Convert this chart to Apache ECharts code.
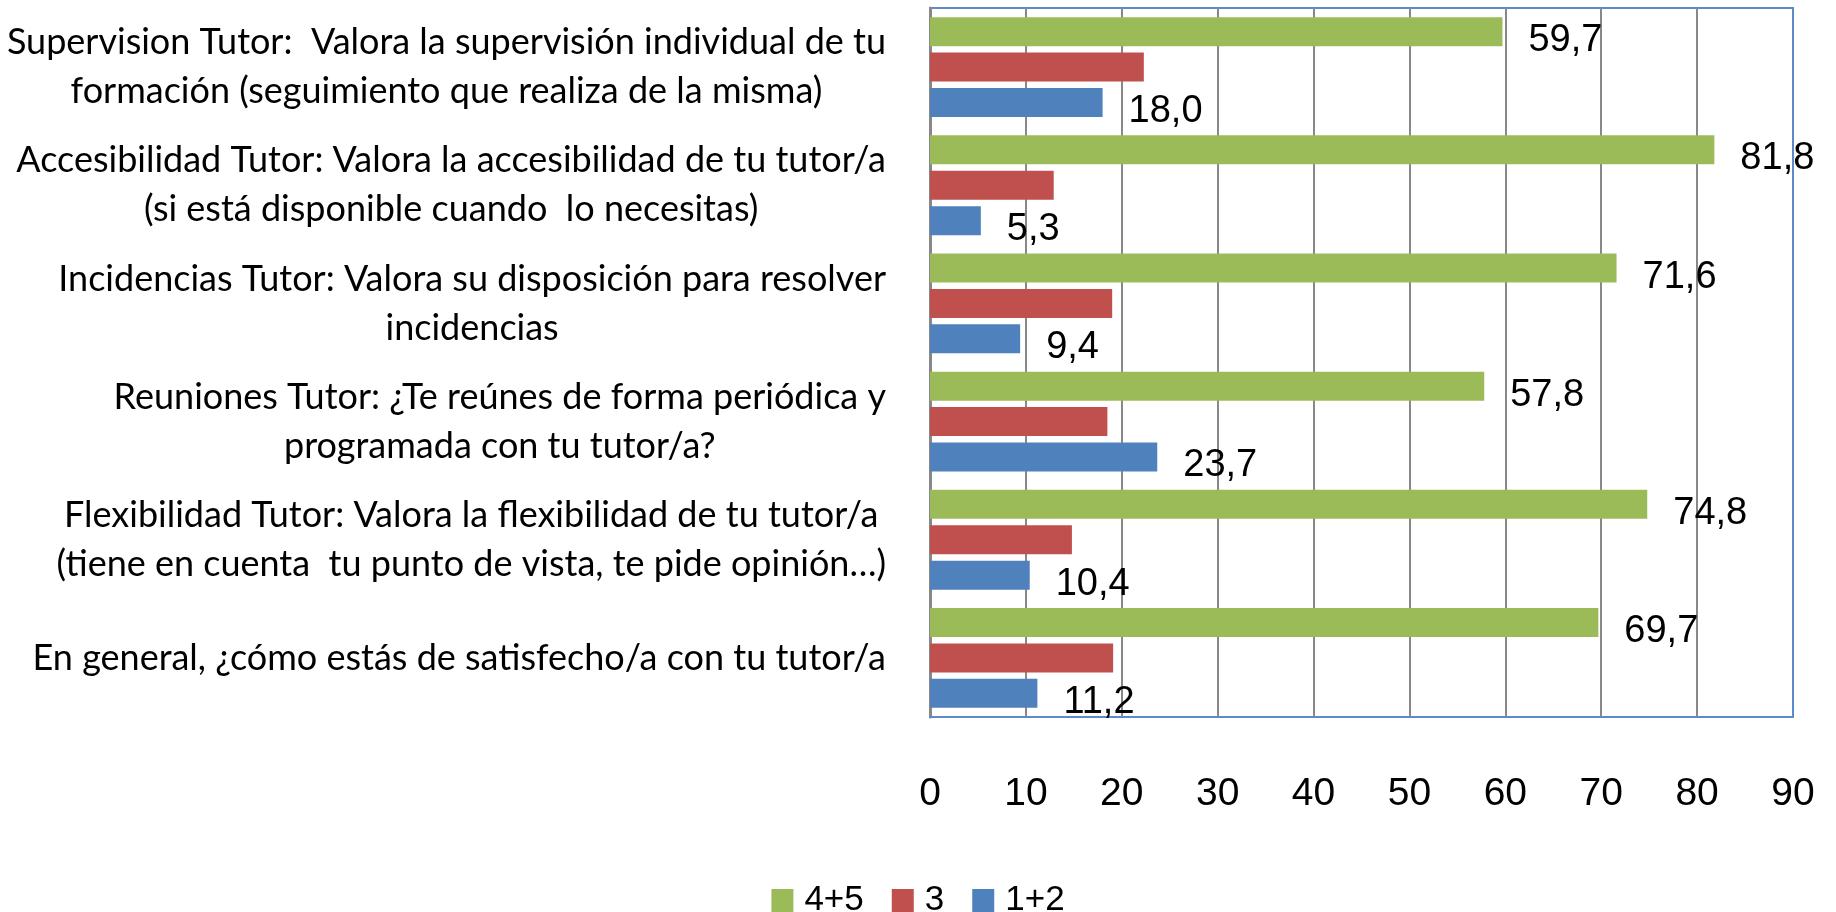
<!DOCTYPE html>
<html>
<head>
<meta charset="utf-8">
<script src="https://cdn.jsdelivr.net/npm/echarts@6/dist/echarts.min.js"></script>
<style>
  html, body { margin: 0; padding: 0; background: #fff; }
  #chart { width: 1836px; height: 912px; }
</style>
</head>
<body>
<div id="chart"></div>
<script>
const categories = [
  'Supervision Tutor:  Valora la supervisión individual de tu\nformación (seguimiento que realiza de la misma)',
  'Accesibilidad Tutor: Valora la accesibilidad de tu tutor/a\n(si está disponible cuando  lo necesitas)',
  'Incidencias Tutor: Valora su disposición para resolver\nincidencias',
  'Reuniones Tutor: ¿Te reúnes de forma periódica y\nprogramada con tu tutor/a?',
  'Flexibilidad Tutor: Valora la flexibilidad de tu tutor/a\n(tiene en cuenta  tu punto de vista, te pide opinión…)',
  'En general, ¿cómo estás de satisfecho/a con tu tutor/a'
]
const seriesNames = ['4+5', '3', '1+2']
const high = [59.7, 81.8, 71.6, 57.8, 74.8, 69.7]
const mid = [22.3, 12.9, 19.0, 18.5, 14.8, 19.1]
const low = [18.0, 5.3, 9.4, 23.7, 10.4, 11.2]
const colors = ['#9BBB59', '#C0504D', '#4F81BD']

const chart = echarts.init(document.getElementById('chart'), undefined, { renderer: 'canvas' })

// valores con coma decimal
const fmt = (p) => p.value.toFixed(1).replace('.', ',')

const valueLabel = {
  show: true,
  position: 'right',
  distance: 26,
  offset: [0, 9],
  color: '#000',
  fontFamily: 'Liberation Sans',
  fontSize: 38,
  formatter: fmt
}

const option = {
  animation: false,
  grid: {
    left: 930,
    right: 43,
    top: 8,
    bottom: 195,
    outerBoundsMode: 'none',
    show: true,
    borderColor: '#5B8BC9',
    borderWidth: 2
  },
  legend: {
    data: seriesNames,
    left: 'center',
    top: 878,
    icon: 'rect',
    itemWidth: 22,
    itemHeight: 23,
    itemGap: 28,
    textStyle: {
      fontFamily: 'Liberation Sans',
      fontSize: 35,
      color: '#000',
      padding: [0, 0, 0, 6]
    }
  },
  xAxis: {
    type: 'value',
    min: 0,
    max: 90,
    interval: 10,
    axisLine: { show: true, lineStyle: { color: '#5B8BC9', width: 2 } },
    axisTick: { show: false },
    axisLabel: {
      margin: 58,
      color: '#000',
      fontFamily: 'Liberation Sans',
      fontSize: 39
    },
    splitLine: {
      show: true,
      lineStyle: {
        width: 2,
        color: ['#888', '#888', '#888', '#888', '#888', '#888', '#888', '#888', '#888', '#5B8BC9']
      }
    }
  },
  yAxis: {
    type: 'category',
    inverse: true,
    data: categories,
    axisLine: { show: true, lineStyle: { color: '#888', width: 3 } },
    axisTick: { show: false },
    axisLabel: {
      margin: 44,
      formatter: (v) => v.split('\n').map(s => '{c|' + s + '}').join('\n'),
      rich: {
        c: {
          align: 'center',
          fontFamily: 'Lato',
          fontSize: 36,
          lineHeight: 49,
          color: '#000'
        }
      }
    }
  },
  series: [
    {
      name: seriesNames[0],
      type: 'bar',
      data: high,
      barWidth: 29,
      barGap: '22%',
      itemStyle: { color: colors[0] },
      label: valueLabel
    },
    {
      name: seriesNames[1],
      type: 'bar',
      data: mid,
      barWidth: 29,
      barGap: '22%',
      itemStyle: { color: colors[1] }
    },
    {
      name: seriesNames[2],
      type: 'bar',
      data: low,
      barWidth: 29,
      barGap: '22%',
      itemStyle: { color: colors[2] },
      label: valueLabel
    }
  ]
}

chart.setOption(option)
</script>
</body>
</html>
